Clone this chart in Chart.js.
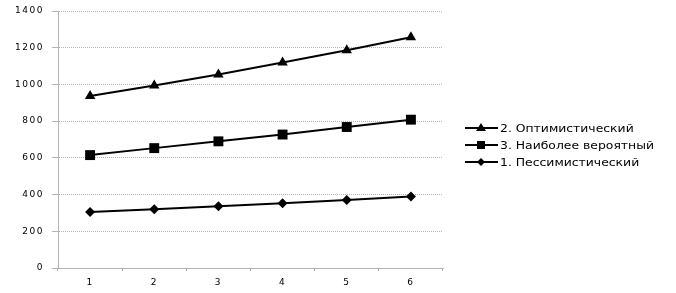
<!DOCTYPE html>
<html>
<head>
<meta charset="utf-8">
<script src="https://cdn.jsdelivr.net/npm/chart.js@4"></script>
<style>
  html, body { margin: 0; padding: 0; background: #fff; }
  #wrap { position: relative; width: 676px; height: 293px; }
  #legend { position: absolute; left: 465px; top: 119px; font: 10.5px "DejaVu Sans", sans-serif; color: #000; }
  .item { display: flex; align-items: center; height: 17px; }
  .sym { position: relative; width: 33px; height: 10px; margin-right: 2px; flex: none; }
  .sym .ln { position: absolute; left: 0; right: 0; top: 4px; height: 2px; background: #000; }
  .sym .mk { position: absolute; left: 16px; top: 5px; }
  .txt { display: inline-block; transform: scaleX(1.18); transform-origin: left center; white-space: nowrap; }
</style>
</head>
<body>
<div id="wrap">
  <canvas id="chart" width="676" height="293"></canvas>
  <div id="legend"></div>
</div>
<script>
const categories = ["1", "2", "3", "4", "5", "6"];
const optimistic = [937, 994, 1054, 1119, 1186, 1257];
const likely = [615, 653, 690, 727, 768, 808];
const pessimistic = [305, 320, 337, 353, 371, 389];
const seriesNames = ["2. Оптимистический", "3. Наиболее вероятный", "1. Пессимистический"];
const yTicks = [0, 200, 400, 600, 800, 1000, 1200, 1400];

const gridColor = '#b4b4b4';

function buildLegend() {
    const box = document.getElementById('legend');
    const marks = [
        '<svg width="10" height="10" style="position:absolute;left:-5px;top:-6px"><polygon points="5,1 10,9 0,9" fill="#000"/></svg>',
        '<svg width="10" height="10" style="position:absolute;left:-4px;top:-4px"><rect x="0" y="0" width="8" height="8" fill="#000"/></svg>',
        '<svg width="10" height="10" style="position:absolute;left:-4px;top:-4px"><polygon points="4,0 8,4 4,8 0,4" fill="#000"/></svg>'
    ];
    box.innerHTML = seriesNames.map((n, i) =>
        `<div class="item"><span class="sym"><span class="ln"></span><span class="mk">${marks[i]}</span></span><span class="txt">${n}</span></div>`
    ).join('');
}

// wide tick lettering like the original
const spacing = {
    id: 'spacing',
    beforeDraw: c => { c.ctx.letterSpacing = '1.5px'; }
};

const ctx = document.getElementById('chart').getContext('2d');
new Chart(ctx, {
    type: 'line',
    data: {
        labels: categories,
        datasets: [
            { label: seriesNames[0], data: optimistic, pointStyle: 'triangle', pointRadius: 6 },
            { label: seriesNames[1], data: likely, pointStyle: 'rect', pointRadius: 7 },
            { label: seriesNames[2], data: pessimistic, pointStyle: 'rectRot', pointRadius: 5 }
        ].map(d => Object.assign(d, {
            borderColor: '#000', backgroundColor: '#000', borderWidth: 2,
            pointBorderWidth: 0, tension: 0
        }))
    },
    options: {
        responsive: false,
        animation: false,
        layout: { padding: { top: 11, right: 233, bottom: 0, left: 0 } },
        plugins: { legend: { display: false }, tooltip: { enabled: false } },
        scales: {
            x: {
                offset: true,
                afterFit: s => { s.height = 25; },
                grid: { drawOnChartArea: false, drawTicks: true, tickLength: 3, offset: true, color: gridColor },
                border: { color: gridColor, dash: [1, 1] },
                ticks: { color: '#000', font: { family: 'DejaVu Sans', size: 9 }, padding: 6 }
            },
            y: {
                min: 0, max: 1400,
                afterFit: s => { s.width = 58; s.paddingTop = 0; s.paddingBottom = 0; },
                afterBuildTicks: s => { s.ticks = yTicks.map(v => ({ value: v })); },
                grid: { color: gridColor, tickLength: 6 },
                border: { color: gridColor, dash: [1, 1] },
                ticks: { color: '#000', font: { family: 'DejaVu Sans', size: 9 }, padding: 8, callback: v => String(v) }
            }
        }
    },
    plugins: [spacing]
});
buildLegend();
</script>
</body>
</html>
